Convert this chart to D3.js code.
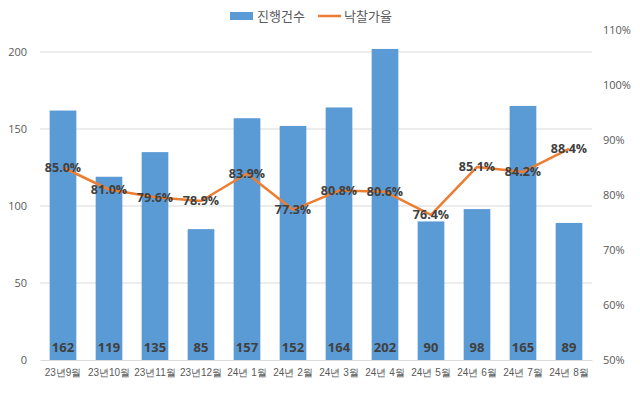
<!DOCTYPE html>
<html>
<head>
<meta charset="utf-8">
<script src="https://cdn.jsdelivr.net/npm/d3@7"></script>
<style>
  body { margin: 0; background: #fff; }
  svg { font-family: "Noto Sans CJK KR", "Noto Sans", sans-serif; }
</style>
</head>
<body>
<div class="chartContainer"></div>
<script>
const months = ["23년9월", "23년10월", "23년11월", "23년12월", "24년 1월", "24년 2월",
  "24년 3월", "24년 4월", "24년 5월", "24년 6월", "24년 7월", "24년 8월"];
const counts = [162, 119, 135, 85, 157, 152, 164, 202, 90, 98, 165, 89];
const rates = [85.0, 81.0, 79.6, 78.9, 83.9, 77.3, 80.8, 80.6, 76.4, 85.1, 84.2, 88.4];
const leftTicks = [0, 50, 100, 150, 200];
const rightTicks = [50, 60, 70, 80, 90, 100, 110];

const w = 640;
const h = 396;
const plotLeft = 40, plotRight = 592, plotTop = 30, plotBottom = 360;

const svg = d3.select(".chartContainer").append("svg")
  .attr("width", w).attr("height", h);

const xScale = d3.scaleBand().domain(months).range([plotLeft, plotRight]).paddingInner(0.42).paddingOuter(0.21);
const yLeft = d3.scaleLinear().domain([0, 214.3]).range([plotBottom, plotTop]);
const yRight = d3.scaleLinear().domain([50, 110]).range([plotBottom, plotTop]);

// gridlines
svg.append("g").selectAll("line")
  .data(leftTicks.filter(d => d > 0))
  .enter().append("line")
  .attr("x1", plotLeft).attr("x2", plotRight)
  .attr("y1", d => yLeft(d)).attr("y2", d => yLeft(d))
  .attr("stroke", "#d9d9d9").attr("stroke-width", 1);

// left axis
const yAxisL = d3.axisLeft(yLeft).tickValues(leftTicks).tickSize(0).tickPadding(13);
const gl = svg.append("g").attr("transform", "translate(" + plotLeft + ",0)").call(yAxisL);
gl.select(".domain").remove();
gl.selectAll("text").attr("fill", "#595959").style("font-size", "11px").style("font-family", "Open Sans, sans-serif");

// right axis
const yAxisR = d3.axisRight(yRight).tickValues(rightTicks).tickSize(0).tickPadding(11)
  .tickFormat(d => d + "%");
const gr = svg.append("g").attr("transform", "translate(" + plotRight + ",0)").call(yAxisR);
gr.select(".domain").remove();
gr.selectAll("text").attr("fill", "#595959").style("font-size", "11px").style("font-family", "Open Sans, sans-serif");

// bars
svg.append("g").selectAll("rect")
  .data(counts)
  .enter().append("rect")
  .attr("x", (d, i) => xScale(months[i]))
  .attr("y", d => yLeft(d))
  .attr("width", xScale.bandwidth())
  .attr("height", d => plotBottom - yLeft(d))
  .attr("fill", "#5b9bd5");

// x axis
const xAxis = d3.axisBottom(xScale).tickSize(0).tickPadding(9);
const gx = svg.append("g").attr("transform", "translate(0," + plotBottom + ")").call(xAxis);
gx.select(".domain").attr("stroke", "#d9d9d9");
gx.selectAll("text").attr("fill", "#595959").style("font-size", "10px");

// bar labels
svg.append("g").selectAll("text")
  .data(counts)
  .enter().append("text")
  .attr("x", (d, i) => xScale(months[i]) + xScale.bandwidth() / 2)
  .attr("y", plotBottom - 13)
  .attr("dy", "0.35em")
  .attr("text-anchor", "middle")
  .attr("fill", "#404040")
  .style("font-size", "13px")
  .style("font-weight", "bold")
  .style("font-family", "Open Sans, sans-serif")
  .text(d => d);

// line
const line = d3.line()
  .x((d, i) => xScale(months[i]) + xScale.bandwidth() / 2)
  .y(d => yRight(d));
svg.append("path")
  .datum(rates)
  .attr("d", line)
  .attr("fill", "none")
  .attr("stroke", "#ed7d31")
  .attr("stroke-width", 2.5)
  .attr("stroke-linejoin", "round");

// line labels
svg.append("g").selectAll("text")
  .data(rates)
  .enter().append("text")
  .attr("x", (d, i) => xScale(months[i]) + xScale.bandwidth() / 2)
  .attr("y", d => yRight(d))
  .attr("dy", "0.35em")
  .attr("text-anchor", "middle")
  .attr("fill", "#404040")
  .style("font-size", "12.5px")
  .style("font-weight", "bold")
  .style("font-family", "Open Sans, sans-serif")
  .text(d => d.toFixed(1) + "%");

// legend
const legend = svg.append("g");
legend.append("rect").attr("x", 230).attr("y", 12).attr("width", 23).attr("height", 8).attr("fill", "#5b9bd5");
legend.append("text").attr("x", 257).attr("y", 16).attr("dy", "0.35em")
  .attr("fill", "#595959").style("font-size", "13px").text("진행건수");
legend.append("line").attr("x1", 318).attr("x2", 341).attr("y1", 16).attr("y2", 16)
  .attr("stroke", "#ed7d31").attr("stroke-width", 2.5);
legend.append("text").attr("x", 344).attr("y", 16).attr("dy", "0.35em")
  .attr("fill", "#595959").style("font-size", "13px").text("낙찰가율");
</script>
</body>
</html>
